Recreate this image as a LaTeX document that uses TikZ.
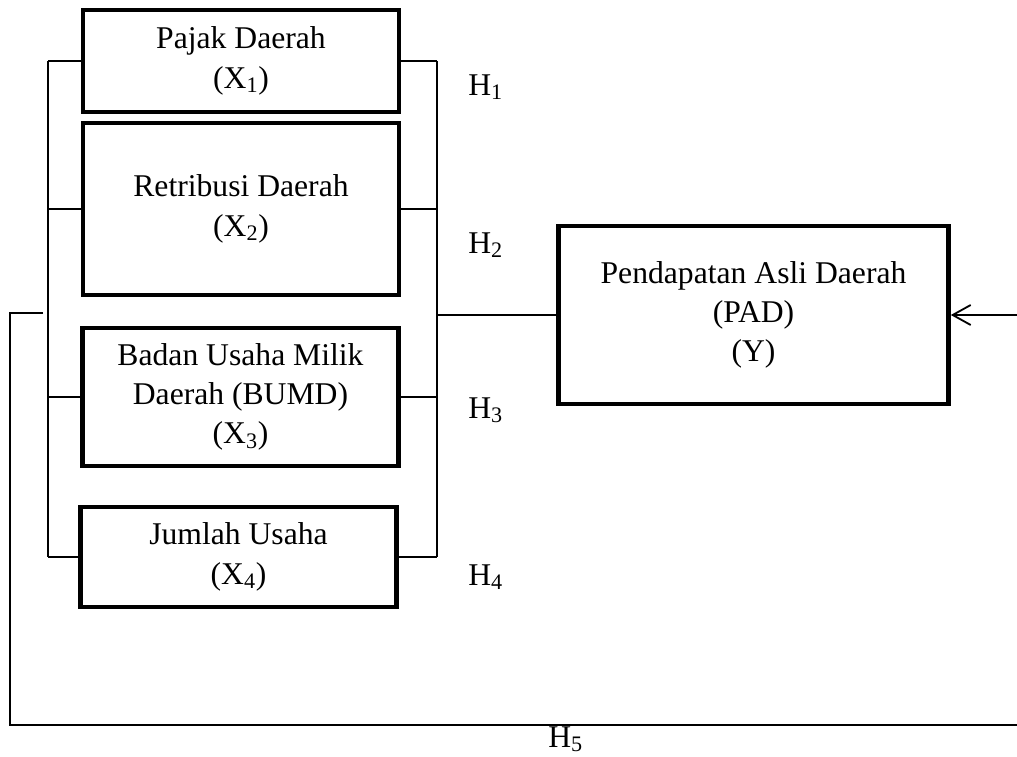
\documentclass[tikz,border=0pt]{standalone}
\usepackage{fontspec}
\setmainfont{Liberation Serif}
\usetikzlibrary{arrows.meta}
\tikzset{
  varbox/.style={draw, line width=3.2pt, inner sep=0pt, align=center},
  link/.style={line width=1.3pt},
  hlabel/.style={anchor=base west, inner sep=0pt}
}
\begin{document}
\begin{tikzpicture}[x=0.025cm, y=-0.025cm, font=\fontsize{22.5}{28}\selectfont]
\useasboundingbox (0,0) rectangle (1017,756);

\node[varbox, minimum width=7.9cm, minimum height=2.55cm] (x1) at (241,61) {Pajak Daerah\\(X\textsubscript{1})};
\node[varbox, minimum width=7.9cm, minimum height=4.3cm] (x2) at (241,209) {Retribusi Daerah\\(X\textsubscript{2})};
\node[varbox, minimum width=7.9cm, minimum height=3.45cm] (x3) at (240.5,397) {Badan Usaha Milik\\Daerah (BUMD)\\(X\textsubscript{3})};
\node[varbox, minimum width=7.9cm, minimum height=2.5cm] (x4) at (238.5,557) {Jumlah Usaha\\(X\textsubscript{4})};
\node[varbox, minimum width=9.75cm, minimum height=4.45cm] (y) at (753.5,315) {Pendapatan Asli Daerah\\(PAD)\\(Y)};

\node[hlabel] (h1) at (468,95) {H\textsubscript{1}};
\node[hlabel] (h2) at (468,253) {H\textsubscript{2}};
\node[hlabel] (h3) at (468,418) {H\textsubscript{3}};
\node[hlabel] (h4) at (468,585) {H\textsubscript{4}};
\node[hlabel] (h5) at (548,747) {H\textsubscript{5}};

\coordinate (lbar) at (48,0);
\coordinate (rbar) at (437,0);
\coordinate (outa) at (43,313);
\coordinate (outb) at (10,313);
\coordinate (outc) at (10,725);
\coordinate (outd) at (1017,725);

\foreach \v in {x1,x2,x3,x4} {
  \draw[link] (\v.west) -- (\v.west -| lbar);
  \draw[link] (\v.east) -- (\v.east -| rbar);
}
\draw[link] (x1.west -| lbar) -- (x4.west -| lbar);
\draw[link] (x1.east -| rbar) -- (x4.east -| rbar);
\draw[link] (rbar |- y.west) -- (y.west);

\draw[link] (outa) -- (outb) -- (outc) -- (outd);
\draw[link, -{Straight Barb[length=4.5mm, width=5mm]}] (y.east -| outd) -- (y.east);
\end{tikzpicture}
\end{document}
